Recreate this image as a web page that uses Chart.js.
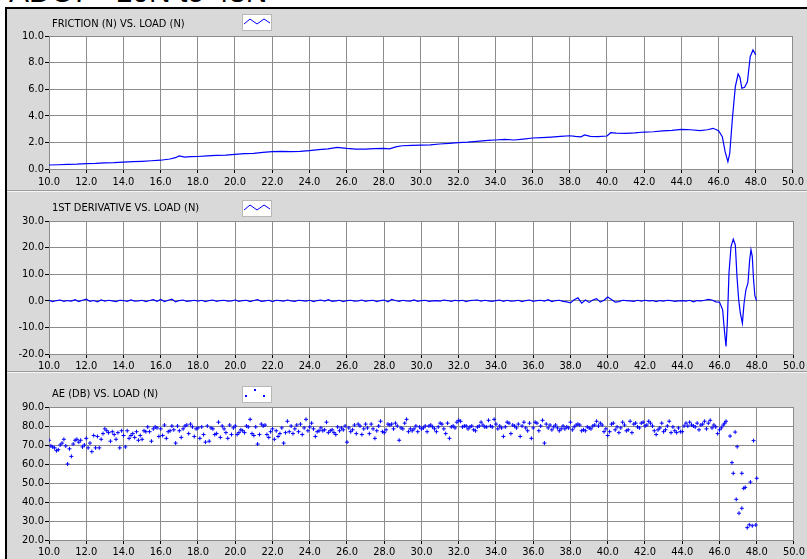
<!DOCTYPE html>
<html>
<head>
<meta charset="utf-8">
<script src="https://cdn.jsdelivr.net/npm/chart.js@4/dist/chart.umd.min.js"></script>
<style>
  body { margin: 0; width: 807px; height: 559px; overflow: hidden; background: #fff; position: relative; }
  #heading { position: absolute; left: 9px; top: -23px; font: 30px "Liberation Sans", Arial, sans-serif; line-height: 30px; white-space: nowrap; color: #000; }
  #frame { position: absolute; left: 5px; top: 7px; width: 802px; height: 552px; background: #d9d9d9; border-left: 2px solid #000; border-top: 2px solid #000; box-sizing: border-box; }
  .sep { position: absolute; left: 7px; width: 800px; height: 1px; background: #9c9c9c; border-bottom: 1px solid #f5f5f5; }
  canvas { position: absolute; left: 0; }
</style>
</head>
<body>
<div id="heading">ADC7 - 10N to 48N</div>
<div id="frame"></div>
<div class="sep" style="top:190px"></div>
<div class="sep" style="top:371px"></div>
<canvas id="frictionChart" width="807" height="182" style="top:9px"></canvas>
<canvas id="derivChart" width="807" height="179" style="top:193px"></canvas>
<canvas id="aeChart" width="807" height="185" style="top:374px"></canvas>

<script>
// tick labels
const loadTicks = [10, 12, 14, 16, 18, 20, 22, 24, 26, 28, 30, 32, 34, 36, 38, 40, 42, 44, 46, 48, 50];
const frictionTicks = [0, 2, 4, 6, 8, 10];
const derivTicks = [-20, -10, 0, 10, 20, 30];
const aeTicks = [20, 30, 40, 50, 60, 70, 80, 90];

// friction (N) vs load (N)
const frictionLoad = [10.0, 10.5, 11.0, 11.5, 12.0, 12.5, 13.0, 13.5, 14.0, 14.5, 15.0, 15.5, 16.0, 16.5, 16.8,
  17.0, 17.3, 17.6, 18.0, 18.5, 19.0, 19.5, 20.0, 20.5, 21.0, 21.5, 22.0, 22.5, 23.0, 23.5, 24.0, 24.5, 25.0,
  25.5, 26.0, 26.5, 27.0, 27.5, 28.0, 28.3, 28.7, 29.0, 29.5, 30.0, 30.5, 31.0, 31.5, 32.0, 32.5, 33.0, 33.3,
  33.6, 34.0, 34.5, 35.0, 35.5, 36.0, 36.5, 37.0, 37.5, 38.0, 38.3, 38.6, 38.8, 39.1, 39.5, 40.0, 40.2, 40.5,
  41.0, 41.5, 42.0, 42.5, 43.0, 43.5, 44.0, 44.5, 45.0, 45.4, 45.7, 46.0, 46.2, 46.35, 46.5, 46.6, 46.75, 46.9,
  47.05, 47.15, 47.25, 47.4, 47.55, 47.7, 47.85, 48.0];
const friction = [0.30, 0.32, 0.35, 0.36, 0.40, 0.42, 0.46, 0.48, 0.52, 0.55, 0.58, 0.62, 0.66, 0.75, 0.85,
  0.98, 0.90, 0.93, 0.94, 0.98, 1.02, 1.05, 1.10, 1.15, 1.18, 1.25, 1.30, 1.33, 1.30, 1.32, 1.38, 1.45, 1.52,
  1.63, 1.55, 1.50, 1.50, 1.53, 1.55, 1.52, 1.68, 1.75, 1.78, 1.80, 1.82, 1.88, 1.92, 1.98, 2.02, 2.08, 2.12,
  2.15, 2.18, 2.22, 2.18, 2.25, 2.33, 2.36, 2.40, 2.45, 2.50, 2.45, 2.42, 2.56, 2.45, 2.43, 2.48, 2.73, 2.70,
  2.68, 2.72, 2.78, 2.80, 2.86, 2.90, 2.98, 2.95, 2.88, 2.95, 3.06, 2.88, 2.43, 1.30, 0.55, 1.18, 3.93, 6.19,
  7.14, 6.89, 6.07, 6.14, 6.56, 8.44, 8.95, 8.57];

// 1st derivative, sampled every 0.2 N from 10.0 to 45.8, then the tail
const derivStart = 10.0, derivStep = 0.2;
const derivFlat = [
  0.2, -0.3, 0.1, 0.3, -0.2,   0.1, -0.1, 0.4, -0.3, 0.2,   0.6, -0.2, 0.1, -0.4, 0.3,
  -0.1, 0.2, 0.0, -0.3, 0.2,   0.1, -0.2, 0.3, -0.1, 0.0,   0.2, -0.3, 0.1, 0.4, -0.2,
  0.5, -0.3, 0.2, 0.6, -0.4,   0.1, 0.3, -0.2, 0.0, 0.2,    -0.1, 0.2, -0.3, 0.1, 0.3,
  -0.2, 0.1, 0.2, -0.1, 0.0,   0.3, -0.2, 0.1, 0.2, -0.3,   0.1, 0.4, -0.2, 0.0, 0.2,
  -0.3, 0.2, 0.1, -0.1, 0.3,   0.0, -0.2, 0.2, 0.1, -0.1,   0.2, -0.3, 0.1, 0.3, -0.1,
  0.4, -0.2, 0.0, 0.2, -0.3,   0.1, 0.2, -0.1, 0.0, 0.3,    -0.2, 0.1, 0.2, -0.3, 0.1,
  0.3, -0.4, 0.5, 0.1, -0.2,   0.2, 0.0, -0.1, 0.3, -0.2,   0.1, 0.2, -0.2, 0.0, 0.1,
  -0.1, 0.3, 0.1, -0.2, 0.2,   0.0, 0.2, -0.3, 0.1, 0.2,    0.3, -0.1, 0.2, 0.0, -0.2,
  0.1, 0.3, -0.2, 0.2, -0.1,   0.0, 0.2, -0.3, 0.1, 0.3,    -0.2, 0.1, 0.2, -0.1, 0.4,
  -0.3, 0.1, 0.2, -0.2, -0.4,  -0.8, 0.4, 1.1, -0.9, 0.3,   -0.6, 0.3, 0.8, -0.5, 0.2,
  1.4, 0.5, -0.5, -0.3, 0.2,   0.1, 0.0, -0.2, 0.2, -0.1,   0.2, 0.0, 0.1, -0.3, 0.1,
  -0.1, 0.2, 0.1, -0.2, 0.0,   0.1, -0.1, 0.2, -0.4, 0.1,   0.0, 0.2, 0.5, 0.3, -0.4];
const derivTailLoad = [46.0, 46.06, 46.17, 46.26, 46.35, 46.42, 46.51, 46.62, 46.74, 46.85, 46.94, 47.03,
  47.12, 47.23, 47.32, 47.42, 47.53, 47.62, 47.69, 47.76, 47.83, 47.9, 47.99];
const derivTail = [-0.5, -1.5, -3.4, -10.9, -17.2, -8.4, 10.4, 20.4, 23.2, 21.0, 9.1, 0.4,
  -4.6, -8.4, -0.9, 4.1, 6.7, 15.4, 19.2, 16.7, 7.9, 1.9, 0.0];

// AE (dB), sampled every 0.1 N from 10.0 to 46.0, then the scattered tail
const aeStart = 10.0, aeStep = 0.1;
const aeMain = [
  72.5, 69.5, 69.0, 68.5, 67.0, 67.5, 70.0, 71.0, 73.0, 69.5,
  60.0, 68.0, 64.0, 70.5, 72.5, 73.0, 71.5, 72.5, 69.0, 70.0,
  73.5, 68.5, 71.0, 66.5, 75.0, 68.5, 74.5, 68.5, 73.0, 76.0,
  78.5, 77.5, 76.5, 72.0, 77.0, 75.5, 73.0, 76.5, 68.5, 77.5,
  75.0, 69.0, 77.5, 73.5, 75.0, 76.0, 74.0, 77.0, 72.5, 75.0,
  73.0, 77.5, 77.0, 79.5, 77.0, 72.0, 78.5, 79.5, 79.0, 74.5,
  78.5, 75.0, 80.5, 73.5, 77.0, 77.5, 80.0, 78.0, 71.0, 80.0,
  77.5, 74.0, 78.5, 80.0, 80.5, 76.0, 81.0, 79.5, 74.5, 78.5,
  79.0, 73.5, 79.5, 75.5, 71.5, 80.0, 72.0, 79.0, 78.5, 75.5,
  76.0, 82.0, 74.0, 80.0, 78.5, 76.5, 73.5, 80.5, 75.5, 79.0,
  80.0, 75.5, 76.5, 78.0, 77.5, 76.5, 80.0, 79.5, 83.5, 76.0,
  75.0, 79.5, 70.5, 75.5, 81.0, 80.0, 80.5, 75.5, 74.0, 77.0,
  78.5, 73.0, 77.5, 74.5, 76.0, 79.0, 71.0, 76.5, 82.5, 77.0,
  80.0, 76.0, 78.5, 80.5, 77.0, 81.0, 75.5, 79.0, 83.5, 77.5,
  79.5, 81.5, 78.5, 74.5, 77.0, 77.5, 79.0, 77.5, 78.0, 82.0,
  76.5, 77.5, 78.0, 76.5, 75.5, 79.5, 77.5, 79.0, 78.0, 80.0,
  71.5, 79.0, 77.0, 78.0, 80.5, 76.0, 81.0, 80.0, 75.5, 78.5,
  81.0, 79.0, 76.0, 81.0, 78.5, 73.5, 77.5, 80.0, 82.5, 77.0,
  76.5, 78.0, 81.0, 80.5, 81.0, 78.5, 81.5, 80.0, 72.5, 79.0,
  78.5, 81.5, 83.5, 77.0, 78.5, 77.5, 78.5, 80.0, 77.0, 79.5,
  78.5, 79.0, 80.0, 77.0, 80.0, 80.5, 79.5, 78.5, 77.0, 79.5,
  81.5, 81.0, 78.5, 76.0, 81.5, 73.5, 79.5, 80.0, 79.0, 82.0,
  83.0, 82.5, 79.5, 80.0, 80.0, 78.5, 79.5, 80.0, 78.0, 77.5,
  79.5, 80.0, 82.0, 80.5, 79.5, 79.5, 83.0, 80.0, 79.5, 83.5,
  81.0, 78.5, 80.0, 79.0, 74.5, 79.5, 82.0, 81.5, 76.0, 80.5,
  80.0, 79.0, 81.0, 74.5, 80.0, 82.0, 79.0, 77.5, 81.5, 73.5,
  79.0, 82.0, 81.5, 77.5, 80.0, 83.0, 71.0, 81.0, 79.0, 80.5,
  78.0, 79.5, 80.5, 79.0, 77.5, 78.5, 80.0, 78.5, 79.5, 79.0,
  82.0, 78.0, 79.5, 80.5, 81.0, 80.5, 77.5, 78.0, 77.5, 79.5,
  79.0, 78.5, 80.0, 80.5, 82.5, 80.0, 81.5, 80.5, 77.0, 78.5,
  75.0, 77.0, 81.0, 81.5, 78.0, 79.5, 76.5, 79.0, 82.0, 80.5,
  77.5, 78.0, 82.5, 76.5, 81.0, 81.5, 79.5, 79.0, 81.5, 82.0,
  80.0, 80.5, 82.5, 81.5, 80.0, 77.5, 75.5, 78.0, 79.0, 81.5,
  77.0, 78.0, 80.0, 82.5, 76.5, 79.5, 77.5, 76.5, 79.0, 77.0,
  77.0, 80.0, 81.5, 80.0, 82.0, 80.5, 80.0, 79.5, 81.5, 78.0,
  80.5, 81.0, 82.5, 78.5, 81.5, 83.0, 79.0, 80.5, 79.5, 76.0,
  78.0];
const aeTailLoad = [46.1, 46.2, 46.28, 46.35, 46.57, 46.67, 46.74, 46.84, 46.9, 46.95, 47.05, 47.2, 47.2,
  47.3, 47.38, 47.49, 47.6, 47.66, 47.76, 47.83, 47.95, 48.0];
const aeTail = [79.0, 80.5, 81.5, 82.5, 74.7, 60.7, 55.1, 76.8, 41.4, 69.1, 34.1, 55.1, 36.7,
  47.2, 47.7, 26.5, 28.0, 50.5, 27.5, 72.3, 27.9, 52.5];

const blue = "#0000ff";
const font = { family: "'Liberation Sans Narrow', 'DejaVu Sans Condensed', 'Liberation Sans', sans-serif", size: 11 };

// white plot background under the grid
const plotBg = {
  id: "plotBg",
  beforeDraw(chart) {
    const a = chart.chartArea, ctx = chart.ctx;
    ctx.save();
    ctx.fillStyle = "#fff";
    ctx.fillRect(a.left, a.top, a.right - a.left, a.bottom - a.top);
    ctx.restore();
  }
};

// panel caption and small legend box
const caption = {
  id: "caption",
  afterDraw(chart, args, opts) {
    const ctx = chart.ctx;
    ctx.save();
    ctx.font = font.size + "px " + font.family;
    ctx.fillStyle = "#000";
    ctx.textBaseline = "middle";
    ctx.fillText(opts.text, 52, opts.y);
    const bx = 242, by = opts.boxY, bw = 30, bh = 17;
    ctx.fillStyle = "#fff";
    ctx.fillRect(bx, by, bw, bh);
    ctx.strokeStyle = "#b8b8b8";
    ctx.lineWidth = 1;
    ctx.strokeRect(bx + 0.5, by + 0.5, bw - 1, bh - 1);
    ctx.strokeStyle = blue;
    ctx.fillStyle = blue;
    if (opts.dots) {
      [[3, 9], [12, 3], [21, 9]].forEach(p => ctx.fillRect(bx + p[0], by + p[1], 2, 2));
    } else {
      ctx.beginPath();
      ctx.moveTo(bx + 2, by + 10);
      ctx.lineTo(bx + 8, by + 5);
      ctx.lineTo(bx + 15, by + 10);
      ctx.lineTo(bx + 22, by + 5);
      ctx.lineTo(bx + 28, by + 9);
      ctx.stroke();
    }
    ctx.restore();
  }
};

function pairs(xs, ys) {
  return ys.map((y, i) => ({ x: xs[i], y }));
}

function evenPairs(start, step, ys) {
  return ys.map((y, i) => ({ x: +(start + i * step).toFixed(2), y }));
}

function makePanel(id, datasets, yTicks, top, axisHeight, labelPad, text, textY, boxY, dots) {
  return new Chart(document.getElementById(id), {
    type: "line",
    data: { datasets },
    plugins: [plotBg, caption],
    options: {
      responsive: false,
      animation: false,
      parsing: false,
      layout: { padding: { top, right: 12, left: 0, bottom: 0 } },
      plugins: {
        legend: { display: false },
        tooltip: { enabled: false },
        caption: { text, y: textY, boxY, dots }
      },
      scales: {
        x: {
          type: "linear",
          min: loadTicks[0],
          max: loadTicks[loadTicks.length - 1],
          afterBuildTicks: s => { s.ticks = loadTicks.map(v => ({ value: v })); },
          afterFit: s => { s.height = axisHeight; },
          ticks: { color: "#000", font, padding: labelPad, maxRotation: 0, autoSkip: false, callback: v => v.toFixed(1) },
          grid: { color: "#8c8c8c", tickColor: "#000", tickLength: 4 },
          border: { color: "#8c8c8c" }
        },
        y: {
          min: yTicks[0],
          max: yTicks[yTicks.length - 1],
          afterBuildTicks: s => { s.ticks = yTicks.map(v => ({ value: v })); },
          afterFit: s => { s.width = 49; },
          ticks: { color: "#000", font, padding: 1, callback: v => v.toFixed(1) },
          grid: { color: "#8c8c8c", tickColor: "#000", tickLength: 4 },
          border: { color: "#8c8c8c" }
        }
      }
    }
  });
}

makePanel("frictionChart", [{
  data: pairs(frictionLoad, friction),
  borderColor: blue, borderWidth: 1.2, pointRadius: 0, tension: 0
}], frictionTicks, 27, 22, 3, "FRICTION (N) VS. LOAD (N)", 15, 5, false);

makePanel("derivChart", [{
  data: evenPairs(derivStart, derivStep, derivFlat).concat(pairs(derivTailLoad, derivTail)),
  borderColor: blue, borderWidth: 1.2, pointRadius: 0, tension: 0
}], derivTicks, 28, 18, 2, "1ST DERIVATIVE VS. LOAD (N)", 15, 7, false);

makePanel("aeChart", [{
  data: evenPairs(aeStart, aeStep, aeMain).concat(pairs(aeTailLoad, aeTail)),
  showLine: false, borderColor: blue, backgroundColor: blue,
  pointStyle: "cross", pointRadius: 2, borderWidth: 1
}], aeTicks, 33, 19, 2, "AE (DB) VS. LOAD (N)", 20, 12, true);
</script>
</body>
</html>
